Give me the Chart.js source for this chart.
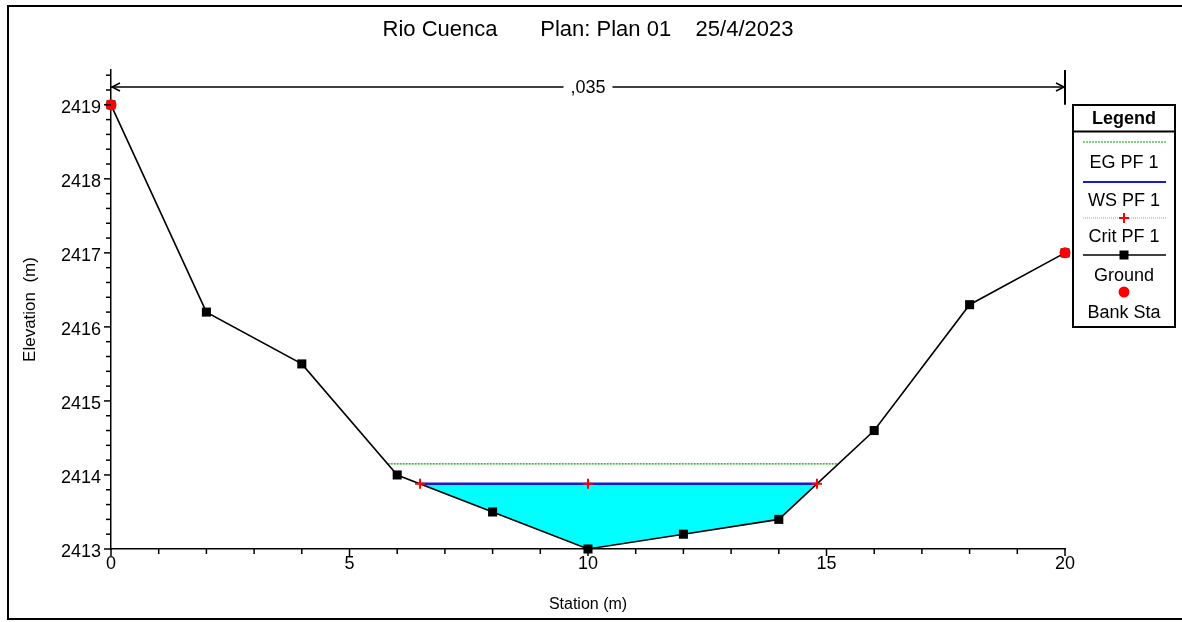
<!DOCTYPE html>
<html>
<head>
<meta charset="utf-8">
<script src="https://cdn.jsdelivr.net/npm/chart.js@4.4.1/dist/chart.umd.min.js"></script>
<style>
html,body{margin:0;padding:0;background:#fff;}
#wrap{position:relative;width:1182px;height:622px;}
</style>
</head>
<body>
<div id="wrap"><canvas id="c" width="1182" height="622"></canvas></div>
<script>
// ---- data ----
const titleText = 'Rio Cuenca       Plan: Plan 01    25/4/2023';
const stations = [0, 2, 4, 6, 8, 10, 12, 14, 16, 18, 20];
const groundElev = [2419.0, 2416.2, 2415.5, 2414.0, 2413.5, 2413.0, 2413.2, 2413.4, 2414.6, 2416.3, 2417.0];
const wsStations = [6.48, 14.8];
const wsElev = 2413.88;
const egStations = [5.8, 15.25];
const egElev = 2414.15;
const critStations = [6.48, 10, 14.8];
const critElev = 2413.88;
const bankStations = [0, 20];
const bankElev = [2419.0, 2417.0];
const nLabel = ',035';
const nRange = [0, 20];
const nElev = 2419.24;
const xTickLabels = [0, 5, 10, 15, 20];
const yTickLabels = [2413, 2414, 2415, 2416, 2417, 2418, 2419];
const legendItems = ['EG PF 1', 'WS PF 1', 'Crit PF 1', 'Ground', 'Bank Sta'];

// ---- derived datasets ----
const groundPts = stations.map((s, i) => ({x: s, y: groundElev[i]}));
const waterPts = [{x: wsStations[0], y: wsElev}]
  .concat(groundPts.filter(p => p.x > wsStations[0] && p.x < wsStations[1]))
  .concat([{x: wsStations[1], y: wsElev}]);
const wsPts = wsStations.map(s => ({x: s, y: wsElev}));
const egPts = egStations.map(s => ({x: s, y: egElev}));
const critPts = critStations.map(s => ({x: s, y: critElev}));
const bankPts = bankStations.map((s, i) => ({x: s, y: bankElev[i]}));

const FONT = '"Liberation Sans", Arial, sans-serif';
const EG_COLOR = '#00a000';
const WS_COLOR = '#1a1ad0';

const isInt = v => Math.abs(v - Math.round(v)) < 1e-6;

const decorPlugin = {
  id: 'decor',
  beforeDraw(chart) {
    const ctx = chart.ctx;
    ctx.save();
    ctx.fillStyle = '#fff';
    ctx.fillRect(0, 0, chart.width, chart.height);
    ctx.strokeStyle = '#000';
    ctx.lineWidth = 2;
    ctx.beginPath();
    ctx.moveTo(1183, 6); ctx.lineTo(8, 6); ctx.lineTo(8, 619); ctx.lineTo(1183, 619);
    ctx.stroke();
    ctx.restore();
  },
  afterDraw(chart) {
    const ctx = chart.ctx;
    const xs = chart.scales.x, ys = chart.scales.y;
    ctx.save();
    // custom tick marks
    ctx.strokeStyle = '#000';
    ctx.lineWidth = 1.5;
    const ay = ys.getPixelForValue(ys.min);
    xs.ticks.forEach(t => {
      const px = xs.getPixelForValue(t.value);
      const len = xTickLabels.includes(Math.round(t.value)) && isInt(t.value) ? 7 : 5;
      ctx.beginPath(); ctx.moveTo(px, ay); ctx.lineTo(px, ay + len); ctx.stroke();
    });
    const ax = xs.getPixelForValue(xs.min);
    ys.ticks.forEach(t => {
      const py = ys.getPixelForValue(t.value);
      const len = isInt(t.value) ? 7 : 5;
      ctx.beginPath(); ctx.moveTo(ax, py); ctx.lineTo(ax - len, py); ctx.stroke();
    });
    // n-value annotation
    const x0 = xs.getPixelForValue(nRange[0]);
    const x1 = xs.getPixelForValue(nRange[1]);
    const yn = ys.getPixelForValue(nElev);
    const xm = (x0 + x1) / 2;
    ctx.font = '18px ' + FONT;
    const tw = ctx.measureText(nLabel).width;
    ctx.lineWidth = 1.5;
    ctx.beginPath();
    ctx.moveTo(x0, yn); ctx.lineTo(xm - tw / 2 - 7, yn);
    ctx.moveTo(xm + tw / 2 + 7, yn); ctx.lineTo(x1, yn);
    ctx.stroke();
    ctx.beginPath();
    ctx.moveTo(x0 + 9, yn - 4); ctx.lineTo(x0 + 1, yn); ctx.lineTo(x0 + 9, yn + 4);
    ctx.moveTo(x1 - 9, yn - 4); ctx.lineTo(x1 - 1, yn); ctx.lineTo(x1 - 9, yn + 4);
    ctx.stroke();
    ctx.lineWidth = 2;
    ctx.beginPath();
    ctx.moveTo(x1, ys.getPixelForValue(ys.max)); ctx.lineTo(x1, ys.getPixelForValue(bankElev[0]));
    ctx.stroke();
    ctx.fillStyle = '#000';
    ctx.textAlign = 'center';
    ctx.textBaseline = 'middle';
    ctx.fillText(nLabel, xm, yn + 1);

    // legend box
    const L = 1073, R = 1175, T = 105, B = 327, cx = (L + R) / 2;
    ctx.lineWidth = 2;
    ctx.strokeRect(L, T, R - L, B - T);
    ctx.beginPath(); ctx.moveTo(L, 131.5); ctx.lineTo(R, 131.5); ctx.stroke();
    ctx.font = 'bold 18px ' + FONT;
    ctx.fillText('Legend', cx, 119);
    ctx.font = '18px ' + FONT;
    const sx0 = 1083, sx1 = 1166;
    // EG
    ctx.lineWidth = 1.2; ctx.strokeStyle = EG_COLOR; ctx.setLineDash([2, 1]);
    ctx.beginPath(); ctx.moveTo(sx0, 142); ctx.lineTo(sx1, 142); ctx.stroke();
    ctx.setLineDash([]);
    ctx.fillText(legendItems[0], cx, 163);
    // WS
    ctx.lineWidth = 2; ctx.strokeStyle = WS_COLOR;
    ctx.beginPath(); ctx.moveTo(sx0, 182); ctx.lineTo(sx1, 182); ctx.stroke();
    ctx.fillText(legendItems[1], cx, 201);
    // Crit
    ctx.lineWidth = 1; ctx.strokeStyle = 'rgba(255,80,80,0.8)'; ctx.setLineDash([1, 1]);
    ctx.beginPath(); ctx.moveTo(sx0, 218); ctx.lineTo(sx1, 218); ctx.stroke();
    ctx.setLineDash([]);
    ctx.strokeStyle = '#ff0000'; ctx.lineWidth = 2;
    ctx.beginPath(); ctx.moveTo(cx - 5, 218); ctx.lineTo(cx + 5, 218);
    ctx.moveTo(cx, 213); ctx.lineTo(cx, 223); ctx.stroke();
    ctx.fillText(legendItems[2], cx, 237);
    // Ground
    ctx.strokeStyle = '#000'; ctx.lineWidth = 1.6;
    ctx.beginPath(); ctx.moveTo(sx0, 255); ctx.lineTo(sx1, 255); ctx.stroke();
    ctx.fillRect(cx - 4.5, 250.5, 9, 9);
    ctx.fillText(legendItems[3], cx, 276);
    // Bank
    ctx.fillStyle = '#ff0000';
    ctx.beginPath(); ctx.arc(cx, 292, 5.5, 0, Math.PI * 2); ctx.fill();
    ctx.fillStyle = '#000';
    ctx.fillText(legendItems[4], cx, 313);
    ctx.restore();
  }
};

new Chart(document.getElementById('c'), {
  type: 'scatter',
  data: {
    datasets: [
      {label: 'Water', data: waterPts, showLine: true, borderWidth: 0, borderColor: 'rgba(0,0,0,0)',
       backgroundColor: '#00ffff', fill: {value: wsElev}, pointRadius: 0, order: 10},
      {label: 'EG PF 1', data: egPts, showLine: true, borderColor: EG_COLOR, borderWidth: 1.2,
       borderDash: [2, 1], pointRadius: 0, fill: false, order: 8},
      {label: 'WS PF 1', data: wsPts, showLine: true, borderColor: WS_COLOR, borderWidth: 2.5,
       pointRadius: 0, fill: false, order: 6},
      {label: 'Ground', data: groundPts, showLine: true, borderColor: '#000', borderWidth: 1.6,
       pointStyle: 'rect', pointRadius: 6.4, pointBackgroundColor: '#000', pointBorderColor: '#000',
       pointBorderWidth: 0, fill: false, order: 4, clip: false},
      {label: 'Crit PF 1', data: critPts, showLine: false, borderColor: '#ff0000',
       pointStyle: 'cross', pointRadius: 5, pointBorderWidth: 2, pointBorderColor: '#ff0000',
       fill: false, order: 3, clip: false},
      {label: 'Bank Sta', data: bankPts, showLine: false, pointStyle: 'circle', pointRadius: 5.5,
       pointBackgroundColor: '#ff0000', pointBorderColor: '#ff0000', pointBorderWidth: 0, order: 1, clip: false}
    ]
  },
  options: {
    responsive: false,
    animation: false,
    events: [],
    layout: {padding: {left: 8, right: 117, top: 5, bottom: 5}},
    plugins: {
      legend: {display: false},
      tooltip: {enabled: false},
      title: {display: true, text: titleText, color: '#000', fullSize: false,
        font: {family: FONT, size: 22, weight: 'normal'}, padding: {top: 11.8, bottom: 26.8}}
    },
    scales: {
      x: {
        type: 'linear', min: 0, max: 20,
        afterFit: s => { s.height = 68; },
        ticks: {stepSize: 1, autoSkip: false, maxRotation: 0, padding: 4, color: '#000',
          font: {family: FONT, size: 18},
          callback: v => xTickLabels.includes(v) ? String(v) : ''},
        grid: {display: false, drawTicks: false},
        border: {display: true, color: '#000', width: 1.5},
        title: {display: true, text: 'Station (m)', color: '#000',
          font: {family: FONT, size: 16}, padding: {top: 0, bottom: 2.4}}
      },
      y: {
        type: 'linear', min: 2413, max: 2419.47,
        afterFit: s => { s.width = 103; },
        afterBuildTicks: s => {
          const t = [];
          for (let v = 2413; v <= 2419.47 + 1e-9; v = Math.round((v + 0.2) * 10) / 10) t.push({value: v});
          s.ticks = t;
        },
        ticks: {autoSkip: false, padding: 10, labelOffset: 3, color: '#000', font: {family: FONT, size: 18},
          callback: v => yTickLabels.some(l => Math.abs(l - v) < 1e-6) ? String(Math.round(v)) : ''},
        grid: {display: false, drawTicks: false},
        border: {display: true, color: '#000', width: 1.5},
        title: {display: true, text: 'Elevation  (m)', color: '#000',
          font: {family: FONT, size: 17}, padding: {top: 11.8, bottom: 0}}
      }
    }
  },
  plugins: [decorPlugin]
});
</script>
</body>
</html>
